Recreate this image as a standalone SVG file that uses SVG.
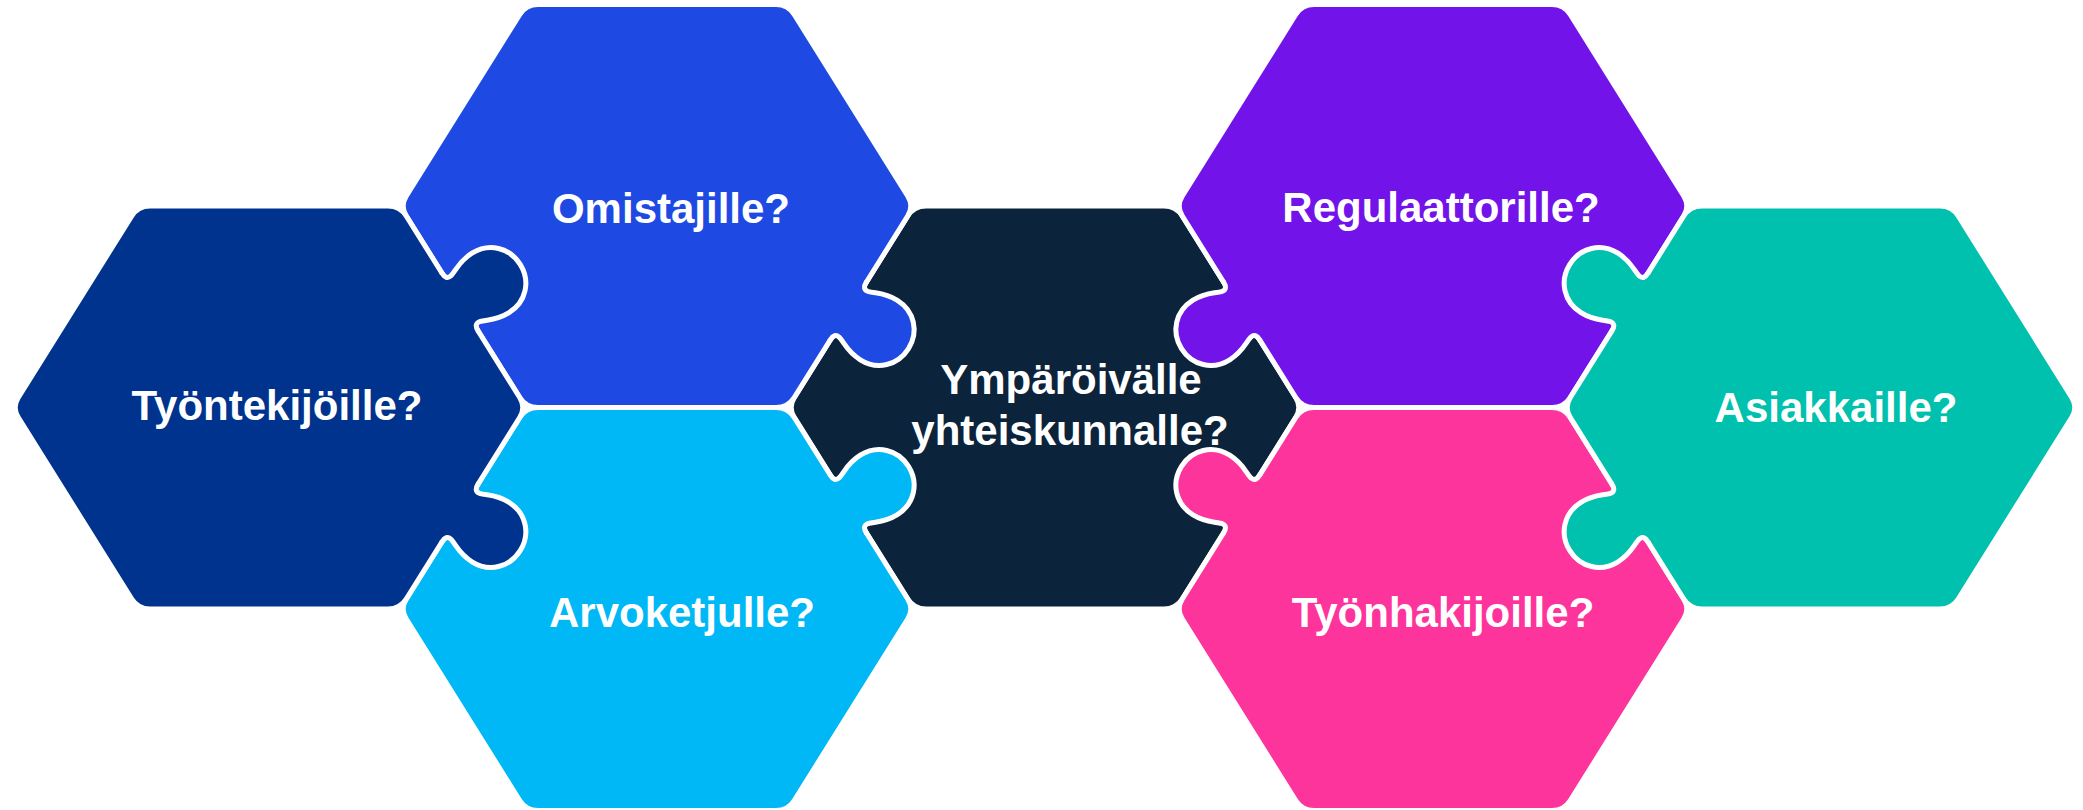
<svg xmlns="http://www.w3.org/2000/svg" xmlns:xlink="http://www.w3.org/1999/xlink" width="2083" height="810" viewBox="0 0 2083 810">
<style>
.hex{stroke:#ffffff;stroke-width:5;stroke-linejoin:round}
.kl{fill:none;stroke:#ffffff;stroke-width:5;stroke-linecap:round;stroke-linejoin:round}
.lbl{font-family:"Liberation Sans",Arial,Helvetica,sans-serif;font-weight:bold;font-size:42px;fill:#ffffff;text-anchor:middle}
</style>
<defs>
<path id="hex" d="M -250.64,-10.17 L -137.36,-191.33 Q -131,-201.5 -119,-201.5 L 119,-201.5 Q 131,-201.5 137.36,-191.33 L 250.64,-10.17 Q 257,0 250.64,10.17 L 137.36,191.33 Q 131,201.5 119,201.5 L -119,201.5 Q -131,201.5 -137.36,191.33 L -250.64,10.17 Q -257,0 -250.64,-10.17 Z"/>
<path id="knobFill" d="M 0,-34 Q 0,-26 6,-27 C 14,-29 20,-35 36,-35 C 56,-35 71,-20 71,0 C 71,20 56,35 36,35 C 20,35 14,29 6,27 Q 0,26 0,34 L -6,34 L -6,-34 Z"/>
<path id="knobLine" d="M 0,-34 Q 0,-26 6,-27 C 14,-29 20,-35 36,-35 C 56,-35 71,-20 71,0 C 71,20 56,35 36,35 C 20,35 14,29 6,27 Q 0,26 0,34"/>
</defs>
<rect width="2083" height="810" fill="#ffffff"/>

<g id="node-ymparoivalle">
<use href="#hex" class="hex" fill="#0C233C" transform="translate(1045,407.5)"/>
<text class="lbl"><tspan x="1071" y="394">Ympäröivälle</tspan><tspan x="1070" y="445">yhteiskunnalle?</tspan></text>
</g>

<g id="node-omistajille">
<use href="#hex" class="hex" fill="#1E49E2" transform="translate(657,206)"/>
<g transform="translate(848.3,311) rotate(32)"><use href="#knobFill" fill="#1E49E2"/><use href="#knobLine" class="kl"/></g>
<text class="lbl" x="671" y="223">Omistajille?</text>
</g>

<g id="node-arvoketjulle">
<use href="#hex" class="hex" fill="#00B8F5" transform="translate(657,609)"/>
<g transform="translate(848.3,504) rotate(-32)"><use href="#knobFill" fill="#00B8F5"/><use href="#knobLine" class="kl"/></g>
<text class="lbl" x="682" y="627">Arvoketjulle?</text>
</g>

<g id="node-tyontekijoille">
<use href="#hex" class="hex" fill="#00338D" transform="translate(269,407.5)"/>
<g transform="translate(460,302) rotate(-32)"><use href="#knobFill" fill="#00338D"/><use href="#knobLine" class="kl"/></g>
<g transform="translate(460,513) rotate(32)"><use href="#knobFill" fill="#00338D"/><use href="#knobLine" class="kl"/></g>
<text class="lbl" x="277" y="420">Työntekijöille?</text>
</g>

<g id="node-regulaattorille">
<use href="#hex" class="hex" fill="#7213EA" transform="translate(1433,206)"/>
<g transform="translate(1241.7,311) rotate(148)"><use href="#knobFill" fill="#7213EA"/><use href="#knobLine" class="kl"/></g>
<text class="lbl" x="1441" y="222">Regulaattorille?</text>
</g>

<g id="node-tyonhakijoille">
<use href="#hex" class="hex" fill="#FD349C" transform="translate(1433,609)"/>
<g transform="translate(1241.7,504) rotate(-148)"><use href="#knobFill" fill="#FD349C"/><use href="#knobLine" class="kl"/></g>
<text class="lbl" x="1443" y="627">Työnhakijoille?</text>
</g>

<g id="node-asiakkaille">
<use href="#hex" class="hex" fill="#00C0AE" transform="translate(1821,407.5)"/>
<g transform="translate(1630,302) rotate(-148)"><use href="#knobFill" fill="#00C0AE"/><use href="#knobLine" class="kl"/></g>
<g transform="translate(1630,513) rotate(148)"><use href="#knobFill" fill="#00C0AE"/><use href="#knobLine" class="kl"/></g>
<text class="lbl" x="1836" y="422">Asiakkaille?</text>
</g>

<g id="connectors"></g>
</svg>
